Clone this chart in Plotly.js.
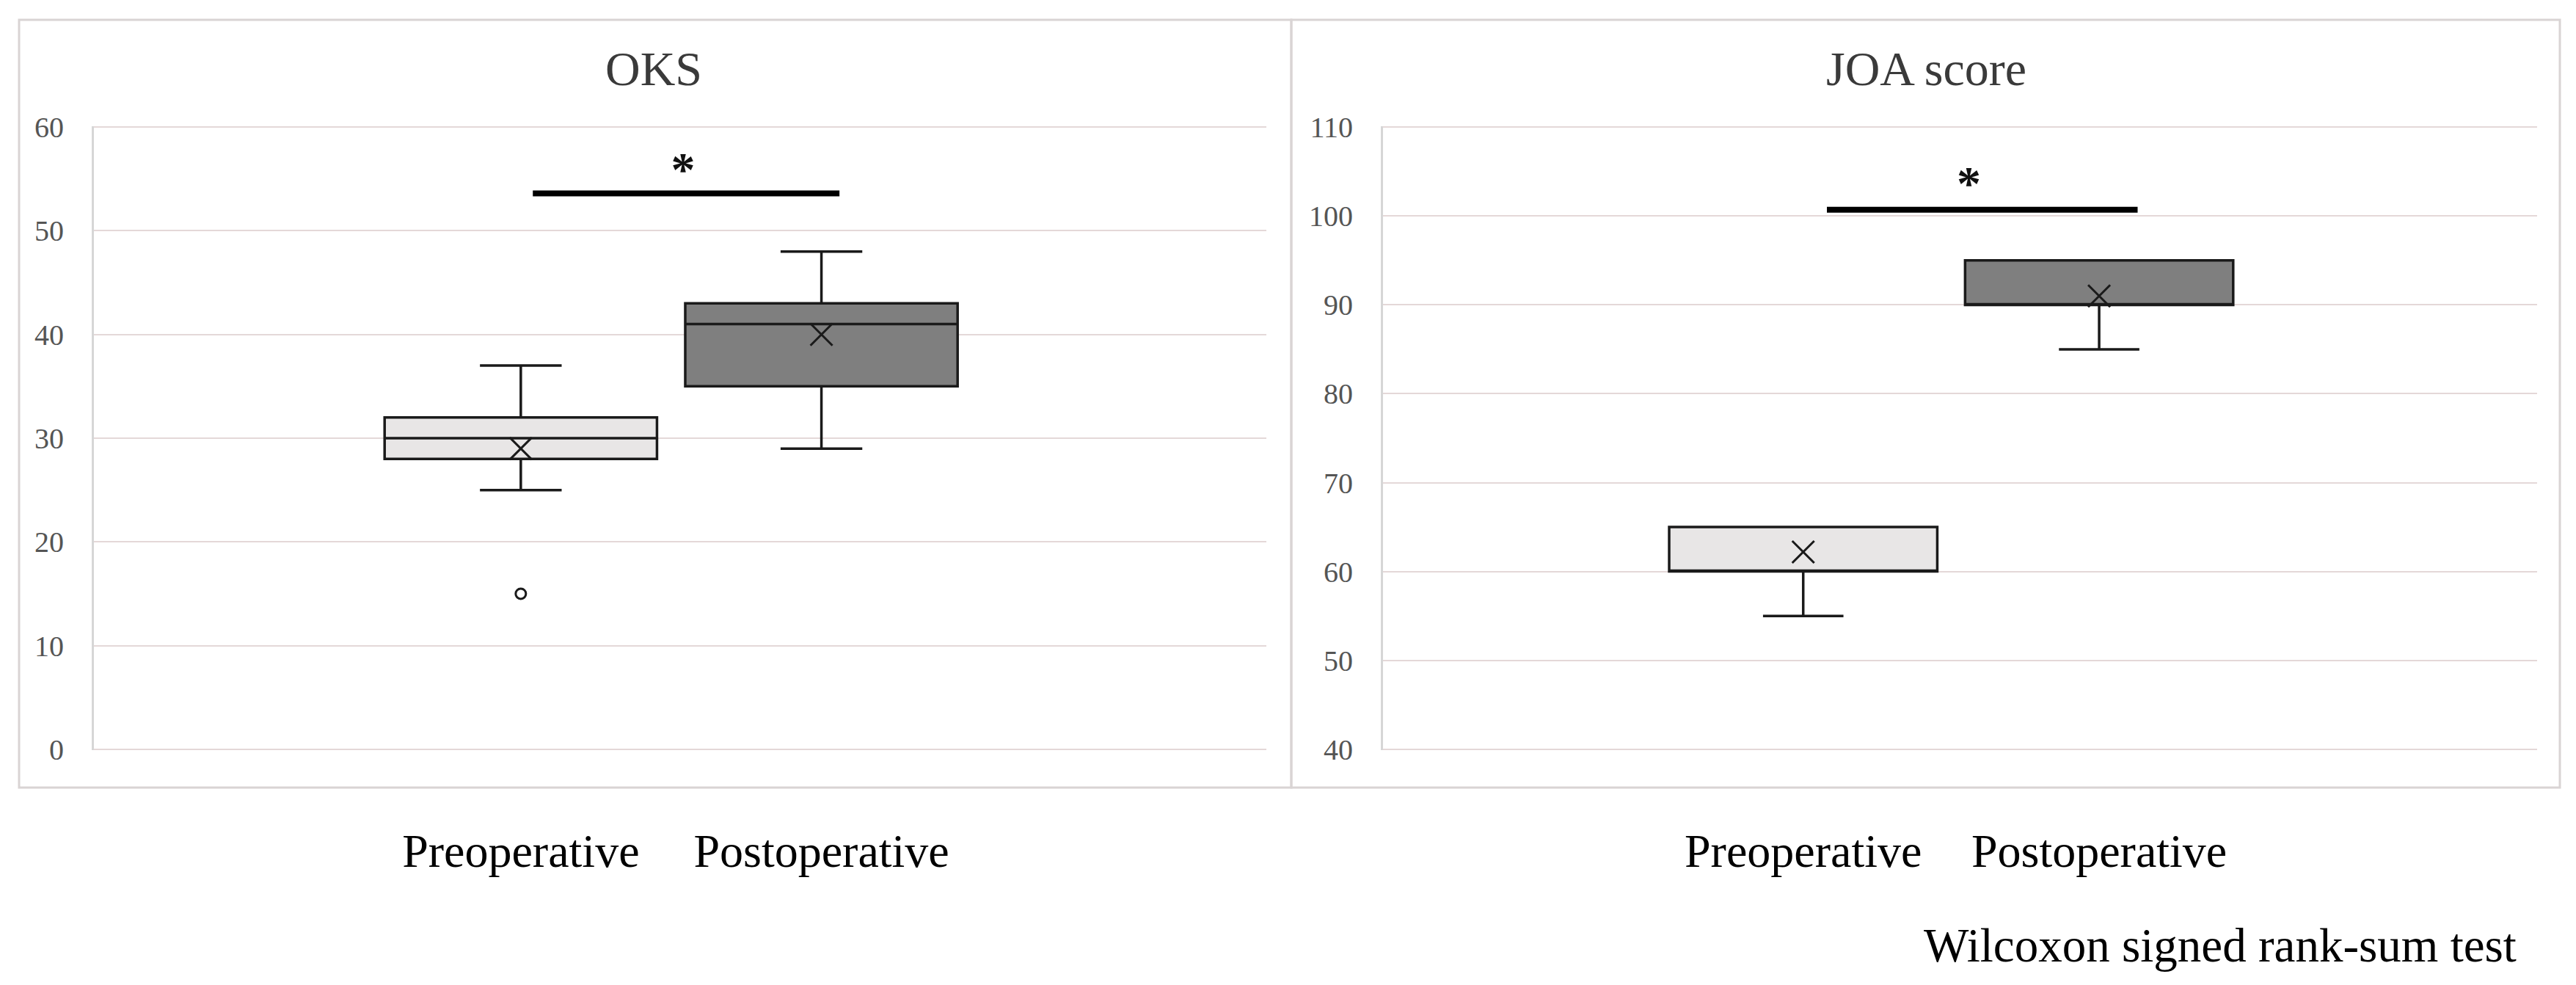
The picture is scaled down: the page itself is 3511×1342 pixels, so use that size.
<!DOCTYPE html>
<html><head><meta charset="utf-8">
<script src="https://cdn.plot.ly/plotly-3.0.1.min.js"></script>
<style>html,body{margin:0;padding:0;background:#fff;} #chart{width:3511px;height:1342px;}</style>
</head><body><div id="chart"></div>
<script>
// ---------- data ----------
const categories = ['Preoperative', 'Postoperative'];
const positions = [0, 1];

// OKS
const oksQ1 = [28, 35];
const oksMedian = [30, 41];
const oksQ3 = [32, 43];
const oksLowerFence = [25, 29];
const oksUpperFence = [37, 48];
const oksMean = [29, 40];
const oksOutlierY = [15];          // Preoperative outlier
const oksTicks = [0, 10, 20, 30, 40, 50, 60];
const oksSigBarX = [0.04, 1.06];
const oksSigBarY = [53.6, 53.6];
const oksStar = [0.54, 55.5];

// JOA score
const joaQ1 = [60, 90];
const joaMedian = [60, 90];
const joaQ3 = [65, 95];
const joaLowerFence = [55, 85];
const joaUpperFence = [65, 95];
const joaMean = [62.2, 91];
const joaTicks = [40, 50, 60, 70, 80, 90, 100, 110];
const joaSigBarX = [0.08, 1.13];
const joaSigBarY = [100.7, 100.7];
const joaStar = [0.56, 103.2];

const titles = ['OKS', 'JOA score'];
const note = 'Wilcoxon signed rank-sum test';

// ---------- styles ----------
const W = 3511, H = 1342;
const fills = ['#e8e6e6', '#7f7f7f'];
const lineCol = '#1a1a1a';
const serif = 'Liberation Serif, Times New Roman, serif';

function boxTraces(q1, med, q3, lo, hi, xa, ya) {
  return positions.map((p, i) => ({
    type: 'box', x: [p], q1: [q1[i]], median: [med[i]], q3: [q3[i]],
    lowerfence: [lo[i]], upperfence: [hi[i]],
    width: 0.906, whiskerwidth: 0.3, boxpoints: false,
    fillcolor: fills[i], line: {color: lineCol, width: 3.5},
    xaxis: xa, yaxis: ya, showlegend: false, hoverinfo: 'skip'
  }));
}
function meanTrace(mean, xa, ya) {
  return {type: 'scatter', mode: 'markers', x: positions, y: mean, xaxis: xa, yaxis: ya,
    marker: {symbol: 'x-thin', size: 30, color: lineCol, line: {color: lineCol, width: 3}},
    showlegend: false, hoverinfo: 'skip'};
}
function sigTraces(bx, by, star, xa, ya) {
  return [
    {type: 'scatter', mode: 'lines', x: bx, y: by, xaxis: xa, yaxis: ya,
     line: {color: '#000', width: 8}, showlegend: false, hoverinfo: 'skip'},
    {type: 'scatter', mode: 'text', x: [star[0]], y: [star[1]], text: ['<b>*</b>'], xaxis: xa, yaxis: ya,
     textposition: 'middle center', textfont: {family: serif, size: 66, color: '#111'},
     showlegend: false, hoverinfo: 'skip'}
  ];
}

const data = [].concat(
  boxTraces(oksQ1, oksMedian, oksQ3, oksLowerFence, oksUpperFence, 'x', 'y'),
  [meanTrace(oksMean, 'x', 'y'),
   {type: 'scatter', mode: 'markers', x: [positions[0]], y: oksOutlierY, xaxis: 'x', yaxis: 'y',
    marker: {symbol: 'circle-open', size: 14, color: lineCol, line: {color: lineCol, width: 3}},
    showlegend: false, hoverinfo: 'skip'}],
  sigTraces(oksSigBarX, oksSigBarY, oksStar, 'x', 'y'),
  boxTraces(joaQ1, joaMedian, joaQ3, joaLowerFence, joaUpperFence, 'x2', 'y2'),
  [meanTrace(joaMean, 'x2', 'y2')],
  sigTraces(joaSigBarX, joaSigBarY, joaStar, 'x2', 'y2')
);

const px = v => v / W, py = v => 1 - v / H;
const yDom = [py(1022), py(172)];

function xAxis(dom, anchor) {
  return {domain: dom, anchor: anchor, range: [-1.42, 2.48], tickmode: 'array',
    tickvals: positions, ticktext: categories, showgrid: false, zeroline: false, showline: false,
    ticks: '', ticklabelstandoff: 94,
    tickfont: {family: serif, size: 64, color: '#000'}, fixedrange: true};
}
function yAxis(range, ticks, anchor) {
  return {domain: yDom, anchor: anchor, range: range, tickmode: 'array', tickvals: ticks,
    showgrid: true, gridcolor: '#e4d8d8', gridwidth: 2, zeroline: false,
    showline: true, linecolor: '#d6d6d6', linewidth: 3, ticks: '', ticklabelstandoff: 30,
    tickfont: {family: serif, size: 40, color: '#555'}, fixedrange: true};
}

const layout = {
  width: W, height: H, margin: {l: 0, r: 0, t: 0, b: 0},
  paper_bgcolor: '#fff', plot_bgcolor: '#fff', showlegend: false,
  xaxis: xAxis([px(128), px(1726)], 'y'),
  yaxis: yAxis([-0.08, 60.08], oksTicks, 'x'),
  xaxis2: xAxis([px(1885), px(3458)], 'y2'),
  yaxis2: yAxis([39.9, 110.1], joaTicks, 'x2'),
  shapes: [
    {type: 'rect', xref: 'paper', yref: 'paper', x0: px(26), x1: px(1760), y0: py(1073), y1: py(27),
     line: {color: '#d9d4d4', width: 3}, fillcolor: 'rgba(0,0,0,0)', layer: 'below'},
    {type: 'rect', xref: 'paper', yref: 'paper', x0: px(1760), x1: px(3489), y0: py(1073), y1: py(27),
     line: {color: '#d9d4d4', width: 3}, fillcolor: 'rgba(0,0,0,0)', layer: 'below'}
  ],
  annotations: [
    {text: titles[0], xref: 'paper', yref: 'paper', x: px(891), y: py(94), xanchor: 'center', yanchor: 'middle',
     showarrow: false, font: {family: serif, size: 66, color: '#3a3a3a'}},
    {text: titles[1], xref: 'paper', yref: 'paper', x: px(2625), y: py(94), xanchor: 'center', yanchor: 'middle',
     showarrow: false, font: {family: serif, size: 66, color: '#3a3a3a'}},
    {text: note, xref: 'paper', yref: 'paper', x: px(3432), y: py(1288), xanchor: 'right', yanchor: 'middle',
     showarrow: false, font: {family: serif, size: 65, color: '#000'}}
  ]
};

Plotly.newPlot('chart', data, layout, {displayModeBar: false, staticPlot: true});
</script>
</body></html>
